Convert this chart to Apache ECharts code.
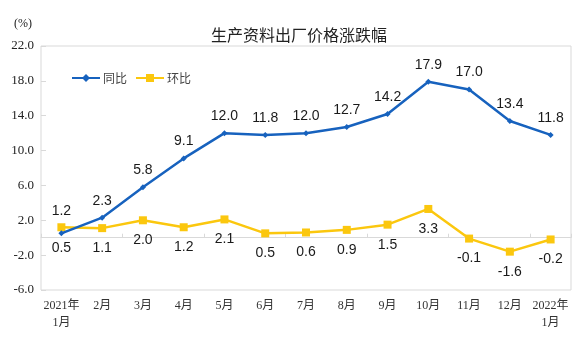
<!DOCTYPE html>
<html><head><meta charset="utf-8">
<script src="https://cdn.jsdelivr.net/npm/echarts@6/dist/echarts.min.js"></script>
<style>html,body{margin:0;padding:0;background:#fff}#c{width:576px;height:343px}</style>
</head><body><div id="c"></div>
<script>
const categories = ['2021年\n1月','2月','3月','4月','5月','6月','7月','8月','9月','10月','11月','12月','2022年\n1月'];
const yoy = [0.5, 2.3, 5.8, 9.1, 12.0, 11.8, 12.0, 12.7, 14.2, 17.9, 17.0, 13.4, 11.8];
const mom = [1.2, 1.1, 2.0, 1.2, 2.1, 0.5, 0.6, 0.9, 1.5, 3.3, -0.1, -1.6, -0.2];
const yTicks = [-6, 22, 4];

const chart = echarts.init(document.getElementById('c'), null, {renderer:'canvas'});
const labelFont = {fontFamily:'Liberation Sans, Arial, sans-serif', fontSize:14, color:'#1a1a1a'};
const BLUE = '#1762BE', YEL = '#FBC70E';
chart.setOption({
  animation:false,
  title:{text:'生产资料出厂价格涨跌幅', left:294, textAlign:'center', top:22,
    textStyle:{fontFamily:'Noto Sans CJK SC', fontSize:16, fontWeight:'normal', color:'#222'}},
  graphic:[{type:'text', left:14, top:18, style:{text:'(%)', font:'12px "Liberation Serif", serif', fill:'#222'}}],
  legend:{left:66, top:67, itemWidth:28, itemHeight:10, itemGap:8,
    textStyle:{fontFamily:'Noto Sans CJK SC', fontSize:12, color:'#444', padding:[0,0,0,-2]},
    data:['同比','环比']},
  grid:{left:41, right:5, top:46, bottom:53, show:true, borderColor:'#d9d9d9', borderWidth:1},
  xAxis:[
    {type:'category', data:categories, boundaryGap:true,
      axisLine:{onZero:true, lineStyle:{color:'#d9d9d9'}},
      axisTick:{show:true, inside:true, length:4, lineStyle:{color:'#d9d9d9'}},
      axisLabel:{show:false}},
    {type:'category', data:categories, boundaryGap:true, position:'bottom',
      axisLine:{show:false, onZero:false}, axisTick:{show:false},
      axisLabel:{interval:0, margin:7, fontFamily:'Liberation Serif, Noto Sans CJK SC', fontSize:12, color:'#333', lineHeight:17}}
  ],
  yAxis:{type:'value', min:yTicks[0], max:yTicks[1], interval:yTicks[2],
    axisLine:{show:false}, splitLine:{show:false},
    axisTick:{show:true, inside:true, length:5, lineStyle:{color:'#d9d9d9'}},
    axisLabel:{formatter:v=>v.toFixed(1), margin:7, fontFamily:'Liberation Serif, serif', fontSize:13, color:'#222'}},
  series:[
    {name:'同比', type:'line', xAxisIndex:0, color:BLUE,
      symbol:'diamond', symbolSize:6, lineStyle:{width:2.5, color:BLUE}, itemStyle:{color:BLUE},
      label:{show:true, position:'top', distance:7, formatter:p=>p.value.toFixed(1), ...labelFont},
      data: yoy.map((v,i)=> i===0 ? {value:v, label:{position:'bottom', distance:5}} : v), z:3},
    {name:'环比', type:'line', xAxisIndex:0, color:YEL,
      symbol:'rect', symbolSize:8, lineStyle:{width:2.5, color:YEL}, itemStyle:{color:YEL},
      label:{show:true, position:'bottom', distance:9, formatter:p=>p.value.toFixed(1), ...labelFont},
      data: mom.map((v,i)=> i===0 ? {value:v, label:{position:'top', distance:5}} : v), z:2}
  ]
});
</script></body></html>
